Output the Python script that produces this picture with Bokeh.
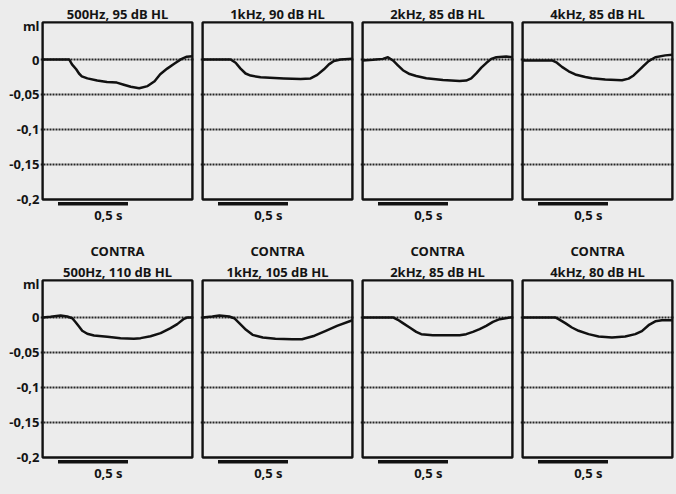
from bokeh.plotting import figure
from bokeh.layouts import column, row
from bokeh.models import Range1d, FixedTicker, Grid
from bokeh.core.properties import value
from bokeh.embed import file_html
from bokeh.resources import INLINE

# ---------------- data ----------------
contra_header = "CONTRA"
ipsi_titles = ["500Hz, 95 dB HL", "1kHz, 90 dB HL", "2kHz, 85 dB HL", "4kHz, 85 dB HL"]
contra_titles = ["500Hz, 110 dB HL", "1kHz, 105 dB HL", "2kHz, 85 dB HL", "4kHz, 80 dB HL"]

y_ticks = [0.0, -0.05, -0.1, -0.15, -0.2]
y_tick_labels = ["0", "-0,05", "-0,1", "-0,15", "-0,2"]
grid_levels = [0.0, -0.05, -0.1, -0.15]
unit_label = "ml"
stim_on = 0.11
stim_off = 0.61
stim_label = "0,5 s"

# ipsilateral recordings (time in s, compliance change in ml)
ipsi_500_t = [0.0, 0.19, 0.21, 0.24, 0.26, 0.28, 0.32, 0.39, 0.46, 0.53, 0.58, 0.63, 0.69, 0.75, 0.80, 0.84, 0.89, 0.94, 0.99, 1.03, 1.07]
ipsi_500_v = [0.0, 0.0, -0.007, -0.014, -0.020, -0.024, -0.027, -0.030, -0.032, -0.033, -0.036, -0.039, -0.041, -0.038, -0.031, -0.021, -0.013, -0.006, 0.0005, 0.004, 0.0045]

ipsi_1k_t = [0.0, 0.20, 0.236, 0.271, 0.307, 0.343, 0.414, 0.581, 0.70, 0.771, 0.819, 0.867, 0.902, 0.938, 0.986, 1.07]
ipsi_1k_v = [0.0, 0.0, -0.0046, -0.013, -0.020, -0.023, -0.0255, -0.027, -0.028, -0.027, -0.022, -0.014, -0.007, -0.002, 0.0, 0.001]

ipsi_2k_t = [0.0, 0.074, 0.145, 0.181, 0.217, 0.252, 0.288, 0.336, 0.383, 0.455, 0.574, 0.693, 0.74, 0.776, 0.812, 0.848, 0.883, 0.919, 0.955, 1.026, 1.07]
ipsi_2k_v = [-0.0014, -0.0005, 0.0009, 0.0032, -0.0014, -0.0083, -0.0153, -0.0208, -0.0236, -0.0269, -0.0292, -0.0306, -0.0301, -0.0269, -0.0199, -0.0116, -0.0051, 0.0009, 0.0032, 0.0042, 0.0032]

ipsi_4k_t = [0.0, 0.21, 0.245, 0.281, 0.329, 0.376, 0.448, 0.495, 0.59, 0.71, 0.757, 0.793, 0.829, 0.864, 0.90, 0.948, 1.019, 1.07]
ipsi_4k_v = [-0.0014, -0.0014, -0.0046, -0.0105, -0.0168, -0.0214, -0.025, -0.0268, -0.0287, -0.0296, -0.0273, -0.0228, -0.0159, -0.0091, -0.0023, 0.0032, 0.0059, 0.0068]

# contralateral recordings
contra_500_t = [0.0, 0.057, 0.129, 0.176, 0.212, 0.236, 0.26, 0.283, 0.319, 0.367, 0.462, 0.557, 0.652, 0.70, 0.771, 0.843, 0.914, 0.962, 1.01, 1.033, 1.07]
contra_500_v = [0.0, 0.001, 0.0029, 0.0014, -0.001, -0.0067, -0.0129, -0.019, -0.0233, -0.0257, -0.0276, -0.0295, -0.0305, -0.0295, -0.0267, -0.0224, -0.0152, -0.0095, -0.0019, 0.0, 0.0]

contra_1k_t = [0.0, 0.07, 0.12, 0.19, 0.226, 0.262, 0.31, 0.357, 0.43, 0.52, 0.64, 0.71, 0.80, 0.88, 0.96, 1.07]
contra_1k_v = [0.0, 0.0014, 0.003, 0.0014, -0.001, -0.008, -0.0176, -0.0248, -0.0286, -0.0305, -0.031, -0.031, -0.026, -0.019, -0.012, -0.004]

contra_2k_t = [0.0, 0.217, 0.252, 0.288, 0.336, 0.383, 0.419, 0.502, 0.693, 0.74, 0.788, 0.836, 0.883, 0.931, 0.979, 1.07]
contra_2k_v = [0.0, 0.0, -0.0033, -0.0081, -0.0143, -0.0205, -0.0238, -0.0255, -0.0255, -0.0238, -0.0205, -0.0167, -0.0119, -0.0062, -0.0024, 0.0005]

contra_4k_t = [0.0, 0.233, 0.257, 0.305, 0.352, 0.40, 0.471, 0.543, 0.638, 0.733, 0.805, 0.852, 0.90, 0.948, 0.995, 1.07]
contra_4k_v = [0.0, 0.0, -0.0024, -0.0081, -0.0143, -0.019, -0.0238, -0.0271, -0.0286, -0.0271, -0.0238, -0.0195, -0.011, -0.0055, -0.004, -0.004]

ipsi_series = [(ipsi_500_t, ipsi_500_v), (ipsi_1k_t, ipsi_1k_v), (ipsi_2k_t, ipsi_2k_v), (ipsi_4k_t, ipsi_4k_v)]
contra_series = [(contra_500_t, contra_500_v), (contra_1k_t, contra_1k_v), (contra_2k_t, contra_2k_v), (contra_4k_t, contra_4k_v)]

# ---------------- layout / style ----------------
BG = "#ececec"
INK = "#141414"
FONT = "Noto Sans"
PX_PER_S = 140
PX_PER_UNIT = 700
T_END = 1.07
V_TOP = 0.053
V_BOTTOM = -0.2
X_LO, X_HI = -0.015, 1.085
Y_LO = -0.2386
Y_HI_TOP = 0.0843
Y_HI_BOTTOM = 0.13
UNIT_POS = 0.048
TITLE_V = 0.065
HEADER_V = 0.095
BAR_TOP = -0.2035
BAR_BOTTOM = -0.2085
LABEL_T = 0.47
LABEL_V = -0.222


def panel(t, v, lines, line_pos, with_axis, y_hi):
    p = figure(
        frame_width=round((X_HI - X_LO) * PX_PER_S),
        frame_height=round((y_hi - Y_LO) * PX_PER_UNIT),
        x_range=Range1d(X_LO, X_HI), y_range=Range1d(Y_LO, y_hi),
        x_axis_location=None, y_axis_location="left" if with_axis else None,
        output_backend="svg", toolbar_location=None,
        min_border_left=40 if with_axis else 6, min_border_right=0,
        min_border_top=0, min_border_bottom=0,
        background_fill_color=BG, border_fill_color=BG, outline_line_color=None,
    )
    p.grid.visible = False
    p.add_layout(Grid(dimension=1, ticker=FixedTicker(ticks=grid_levels),
                      grid_line_color="#262626", grid_line_width=1.8, grid_line_dash="2 1"))
    if with_axis:
        ax = p.yaxis[0]
        ax.ticker = FixedTicker(ticks=[UNIT_POS] + y_ticks)
        overrides = {UNIT_POS: unit_label}
        overrides.update(dict(zip(y_ticks, y_tick_labels)))
        ax.major_label_overrides = overrides
        ax.axis_line_color = None
        ax.major_tick_line_color = None
        ax.minor_tick_line_color = None
        ax.major_tick_out = 0
        ax.major_tick_in = 0
        ax.major_label_standoff = 1
        ax.major_label_text_font = FONT
        ax.major_label_text_font_size = "13px"
        ax.major_label_text_font_style = "bold"
        ax.major_label_text_color = INK

    # plot box
    p.quad(left=[0.0], right=[T_END], bottom=[V_BOTTOM], top=[V_TOP],
           fill_color=None, line_color="#111111", line_width=2.4)
    # response curve
    p.line(t, v, line_color="#111111", line_width=2.5, line_join="round")
    # stimulus bar and scale label
    p.quad(left=[stim_on], right=[stim_off], bottom=[BAR_BOTTOM], top=[BAR_TOP],
           fill_color="#111111", line_color=None)
    p.text(x=[LABEL_T], y=[LABEL_V], text=[stim_label], text_font=value(FONT),
           text_font_size="13px", text_font_style="bold", text_align="center",
           text_baseline="middle", text_color=INK)
    # titles
    p.text(x=[T_END / 2] * len(lines), y=line_pos, text=lines, text_font=value(FONT),
           text_font_size="13px", text_font_style="bold", text_align="center",
           text_baseline="middle", text_color=INK)
    return p


top = [panel(t, v, [ttl], [TITLE_V], i == 0, Y_HI_TOP)
       for i, ((t, v), ttl) in enumerate(zip(ipsi_series, ipsi_titles))]
bottom = [panel(t, v, [contra_header, ttl], [HEADER_V, TITLE_V], i == 0, Y_HI_BOTTOM)
          for i, ((t, v), ttl) in enumerate(zip(contra_series, contra_titles))]

layout = column(row(*top), row(*bottom))

html = file_html(layout, INLINE, title="Acoustic reflex")
html = html.replace("<body>", '<body style="background-color:#ececec;">')
open("out.html", "w").write(html)
